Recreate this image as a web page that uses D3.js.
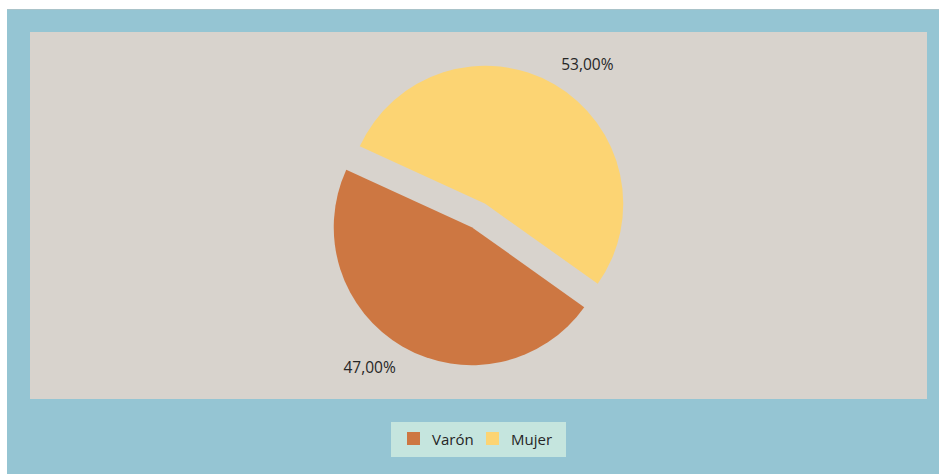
<!DOCTYPE html>
<html>
<head>
<meta charset="utf-8">
<script src="https://cdn.jsdelivr.net/npm/d3@7/dist/d3.min.js"></script>
<style>
  html, body { margin: 0; padding: 0; background: #ffffff; }
  svg { display: block; font-family: "Open Sans", "Noto Sans", sans-serif; }
</style>
</head>
<body>
<svg id="chart" width="939" height="474"></svg>
<script>
const categories = ["Varón", "Mujer"];
const values = [47, 53];
const labels = ["47,00%", "53,00%"];
const colors = ["#CD7742", "#FCD473"];

const W = 939, H = 474;
const svg = d3.select("#chart");

// outer panel
svg.append("rect").attr("x", 7).attr("y", 9).attr("width", W - 7).attr("height", H - 9)
  .attr("fill", "#95C5D3");
svg.append("line").attr("x1", 7).attr("x2", W).attr("y1", 9.5).attr("y2", 9.5)
  .attr("stroke", "#a9c3c9").attr("stroke-width", 1);

// plot area
const plot = { x: 30, y: 32, w: 897, h: 367 };
svg.append("rect").attr("x", plot.x).attr("y", plot.y).attr("width", plot.w).attr("height", plot.h)
  .attr("fill", "#D8D3CD");

const cx = 478.5, cy = 215.5, r = 138, explode = 13.5;
const startDeg = 125.4;
const pie = d3.pie().sort(null).value(d => d)
  .startAngle(startDeg * Math.PI / 180)
  .endAngle(startDeg * Math.PI / 180 + 2 * Math.PI);
const arcs = pie(values);
const arc = d3.arc().innerRadius(0).outerRadius(r);

const g = svg.append("g").attr("transform", `translate(${cx},${cy})`);
arcs.forEach((a, i) => {
  const mid = (a.startAngle + a.endAngle) / 2;
  const ox = Math.sin(mid) * explode, oy = -Math.cos(mid) * explode;
  g.append("path").attr("d", arc(a)).attr("fill", colors[i])
    .attr("transform", `translate(${ox},${oy})`);
  // label placed at the corner just outside the slice along its bisector
  const lr = r + explode + 12;
  const px = Math.sin(mid) * lr, py = -Math.cos(mid) * lr;
  const right = px > 0, top = py < 0;
  g.append("text")
    .attr("x", px + (right ? 1 : -1))
    .attr("y", top ? py - 4 : py + 16)
    .attr("text-anchor", right ? "start" : "end")
    .attr("font-size", 15.5).attr("fill", "#262626")
    .text(labels[i]);
});

// legend
const lg = svg.append("g");
lg.append("rect").attr("x", 391).attr("y", 422).attr("width", 175).attr("height", 35)
  .attr("fill", "#C5E5DE");
const legendX = [407, 486];
categories.forEach((c, i) => {
  lg.append("rect").attr("x", legendX[i]).attr("y", 432).attr("width", 13).attr("height", 13)
    .attr("fill", colors[i]);
  lg.append("text").attr("x", legendX[i] + 25).attr("y", 444.5)
    .attr("font-size", 15).attr("fill", "#262626").text(c);
});
</script>
</body>
</html>
